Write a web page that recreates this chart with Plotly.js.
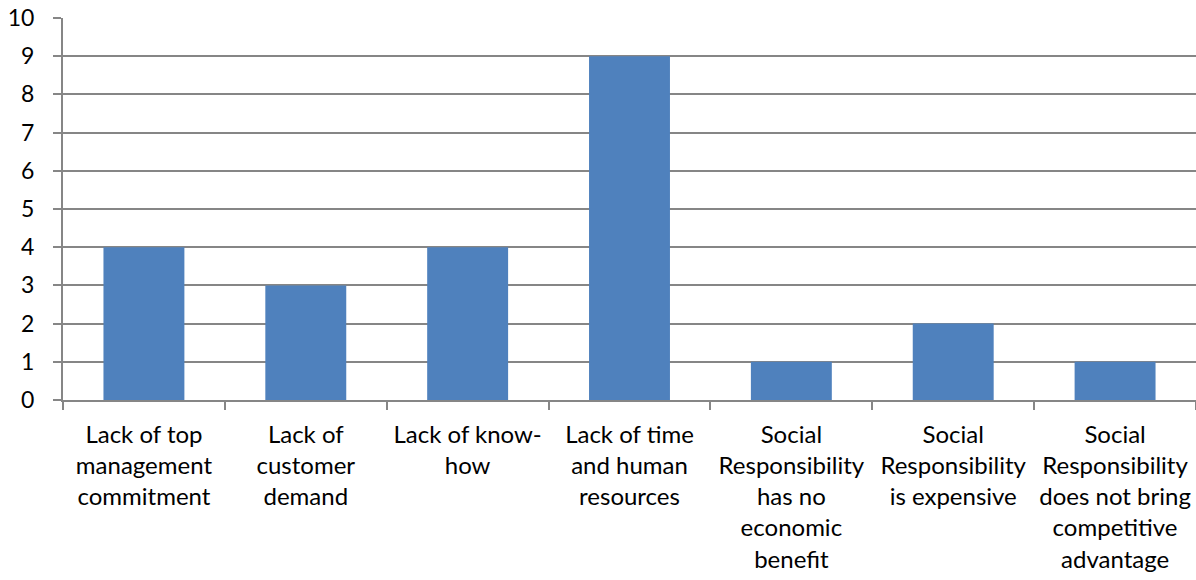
<!DOCTYPE html>
<html>
<head>
<meta charset="utf-8">
<script src="https://cdn.plot.ly/plotly-3.0.1.min.js"></script>
<style>html,body{margin:0;padding:0;background:#fff;}#chart{width:1196px;height:580px;}</style>
</head>
<body>
<div id="chart"></div>
<script>
var categories = [
  "Lack of top<br>management<br>commitment",
  "Lack of<br>customer<br>demand",
  "Lack of know-<br>how",
  "Lack of time<br>and human<br>resources",
  "Social<br>Responsibility<br>has no<br>economic<br>benefit",
  "Social<br>Responsibility<br>is expensive",
  "Social<br>Responsibility<br>does not bring<br>competitive<br>advantage"
];
var values = [4, 3, 4, 9, 1, 2, 1];
var yTicks = [0,1,2,3,4,5,6,7,8,9,10];

var xfont = {family: "Lato, 'Open Sans', sans-serif", size: 24, color: "#000"};
var yfont = {family: "Lato, 'Open Sans', sans-serif", size: 23, color: "#000"};
var trace = {
  type: "bar",
  x: categories,
  y: values,
  marker: {color: "#4F81BD", line: {width: 0}},
  width: 0.5,
  hoverinfo: "none"
};
var layout = {
  width: 1196, height: 580,
  margin: {l: 63, r: 0, t: 18, b: 180, pad: 0},
  paper_bgcolor: "#fff", plot_bgcolor: "#fff",
  showlegend: false,
  font: yfont,
  xaxis: {
    type: "category",
    showline: true, linecolor: "#868686", linewidth: 2,
    ticks: "outside", tickson: "boundaries", ticklen: 8, tickcolor: "#868686", tickwidth: 2,
    showgrid: false, tickfont: xfont, tickangle: 0, automargin: false,
    ticklabelstandoff: 12
  },
  yaxis: {
    range: [0, 10], tickvals: yTicks, ticktext: yTicks.map(String),
    showline: true, linecolor: "#868686", linewidth: 2,
    ticks: "outside", ticklen: 8, tickcolor: "#868686", tickwidth: 2,
    showgrid: true, gridcolor: "#868686", gridwidth: 2,
    zeroline: false, tickfont: yfont, ticklabelstandoff: 14, automargin: false
  }
};
Plotly.newPlot("chart", [trace], layout, {displayModeBar: false, staticPlot: true});
</script>
</body>
</html>
